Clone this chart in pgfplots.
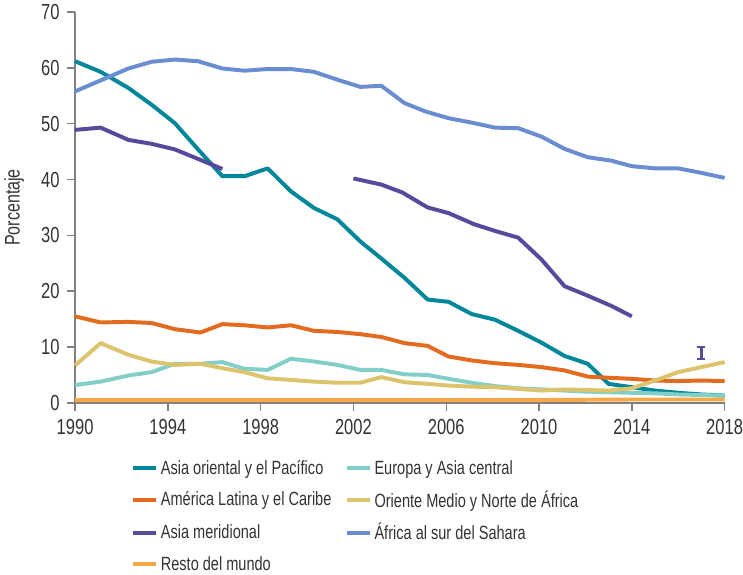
\documentclass[border=0pt]{standalone}
\usepackage{pgfplots}
\pgfplotsset{compat=1.18}
\usepackage{fontspec}
\setmainfont[FakeStretch=0.76]{Liberation Sans}
\definecolor{eap}{HTML}{00879A}
\definecolor{eca}{HTML}{82CFC9}
\definecolor{lac}{HTML}{E26B1F}
\definecolor{mena}{HTML}{DCC46C}
\definecolor{sas}{HTML}{564A9C}
\definecolor{ssa}{HTML}{6A8DD2}
\definecolor{row}{HTML}{F7A948}
\definecolor{axgray}{HTML}{808080}
\definecolor{txt}{HTML}{333333}
\begin{document}
\begin{tikzpicture}
\begin{axis}[
  scale only axis, width=492pt, height=296pt,
  xmin=1990, xmax=2018, ymin=0, ymax=70,
  axis x line=bottom, axis y line=left,
  axis line style={axgray, line width=1.1pt, -},
  xtick={1990,1994,...,2018}, ytick={0,10,...,70},
  tick align=outside, major tick length=6.3pt,
  tick style={axgray, line width=1.1pt},
  x tick label style={/pgf/number format/1000 sep={}, yshift=-3pt, inner xsep=0pt},
  y tick label style={xshift=-2pt},
  /pgf/number format/assume math mode=true,
  ticklabel style={font=\fontsize{16.5}{18}\selectfont, text=txt},
  ylabel={Porcentaje}, ylabel style={font=\fontsize{16}{18}\selectfont, text=txt},
  ylabel shift=6pt,
  clip=false,
  every axis plot/.append style={line width=3pt, line join=round},
  legend columns=2,
  legend style={at={(0.086,-0.14)}, anchor=north west, draw=none, fill=none,
    inner sep=0pt, outer sep=0pt,
    font=\fontsize{14.5}{16}\selectfont, text=txt,
    /tikz/every even column/.append style={column sep=8pt},
    row sep=6.8pt},
  legend cell align=left,
  legend image code/.code={\draw[#1, line width=3pt] (0,0) -- (0.62cm,0);},
]
\addplot[eap] coordinates {(1990,61.2) (1991.1,59.3) (1992.3,56.4) (1993.3,53.4) (1994.3,50.1) (1995.3,45.4) (1996.35,40.6) (1997.3,40.6) (1998.3,42.0) (1999.3,37.9) (2000.3,34.9) (2001.3,32.9) (2002.3,28.9) (2003.1,26.2) (2004.2,22.4) (2005.2,18.5) (2006.1,18.1) (2007.1,15.9) (2008.1,14.9) (2009.1,12.9) (2010.1,10.8) (2011.1,8.4) (2012.1,7.0) (2013,3.4) (2014,2.8) (2015,2.2) (2016,1.8) (2017,1.5) (2018,1.3)};
\addlegendentry{Asia oriental y el Pacífico}
\addplot[eca] coordinates {(1990,3.2) (1991.1,3.8) (1992.3,4.9) (1993.3,5.5) (1994.3,7.0) (1995.4,7.0) (1996.35,7.3) (1997.3,6.1) (1998.3,5.9) (1999.3,7.9) (2000.3,7.4) (2001.3,6.8) (2002.3,5.9) (2003.2,5.9) (2004.2,5.1) (2005.2,5.0) (2006.1,4.3) (2007.1,3.6) (2008.1,3.0) (2009.1,2.6) (2010.1,2.4) (2011.1,2.2) (2012.1,2.0) (2013,1.9) (2014,1.8) (2015,1.7) (2016,1.5) (2017,1.4) (2018,1.3)};
\addlegendentry{Europa y Asia central}
\addplot[lac] coordinates {(1990,15.5) (1991.1,14.4) (1992.3,14.5) (1993.3,14.3) (1994.3,13.2) (1995.4,12.6) (1996.35,14.1) (1997.3,13.9) (1998.3,13.5) (1999.3,13.9) (2000.3,12.9) (2001.3,12.7) (2002.3,12.3) (2003.2,11.8) (2004.2,10.7) (2005.2,10.2) (2006.1,8.3) (2007.1,7.6) (2008.1,7.1) (2009.1,6.8) (2010.1,6.4) (2011.1,5.8) (2012.1,4.7) (2013,4.5) (2014,4.3) (2015,4.0) (2016,3.9) (2017,4.0) (2018,3.9)};
\addlegendentry{América Latina y el Caribe}
\addplot[mena] coordinates {(1990,6.7) (1991.1,10.7) (1992.3,8.6) (1993.3,7.4) (1994.3,6.8) (1995.4,7.0) (1996.35,6.2) (1997.3,5.5) (1998.3,4.4) (1999.3,4.1) (2000.3,3.8) (2001.3,3.6) (2002.3,3.6) (2003.2,4.6) (2004.2,3.7) (2005.2,3.4) (2006.1,3.1) (2007.1,2.9) (2008.1,2.8) (2009.1,2.5) (2010.1,2.2) (2011.1,2.4) (2012.1,2.3) (2013,2.2) (2014,2.6) (2015,4.0) (2016,5.5) (2017,6.4) (2018,7.3)};
\addlegendentry{Oriente Medio y Norte de África}
\addplot[sas] coordinates {(1990,48.9) (1991.1,49.3) (1992.3,47.1) (1993.3,46.4) (1994.3,45.4) (1995.3,43.7) (1996.35,41.9)};
\addlegendentry{Asia meridional}
\addplot[ssa] coordinates {(1990,55.8) (1992.3,59.9) (1993.3,61.1) (1994.3,61.5) (1995.3,61.2) (1996.35,59.9) (1997.3,59.5) (1998.3,59.8) (1999.3,59.8) (2000.3,59.3) (2001.3,57.9) (2002.3,56.6) (2003.2,56.8) (2004.2,53.7) (2005.1,52.2) (2006.1,51.0) (2007.1,50.2) (2008.1,49.3) (2009.1,49.2) (2010.1,47.7) (2011.1,45.5) (2012.1,44.0) (2013.1,43.4) (2014,42.4) (2015,42.0) (2016,42.0) (2017,41.2) (2018,40.3)};
\addlegendentry{África al sur del Sahara}
\addplot[row] coordinates {(1990,0.5) (1994,0.5) (1998,0.5) (2002,0.5) (2006,0.5) (2010,0.5) (2014,0.6) (2018,0.6)};
\addlegendentry{Resto del mundo}
\addplot[sas, forget plot] coordinates {(2002,40.2) (2003.2,39.1) (2004.1,37.7) (2005.2,35.0) (2006.1,34.0) (2007.2,32.0) (2008.1,30.8) (2009.1,29.6) (2010.1,25.7) (2011.1,20.9) (2012.1,19.2) (2013.1,17.4) (2014,15.5)};
\addplot[sas, forget plot, line width=2.8pt, line cap=butt, mark=-, mark size=3pt, mark options={line width=1.8pt, solid}]
  coordinates {(2017,7.8) (2017,10.0)};
\end{axis}
\end{tikzpicture}
\end{document}
